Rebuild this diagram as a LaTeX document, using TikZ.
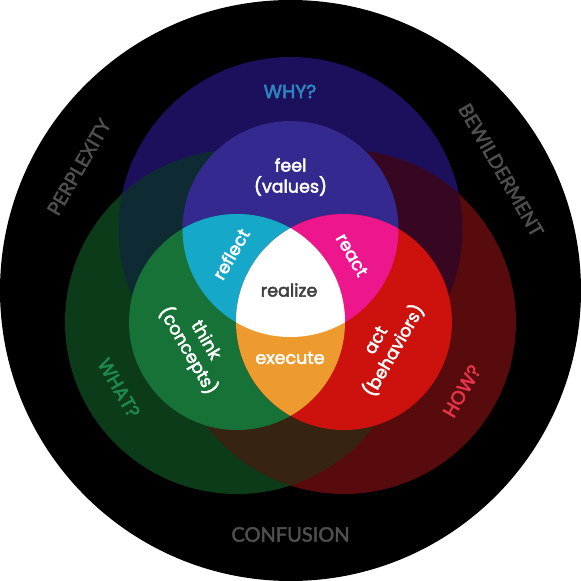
\documentclass[tikz,border=0pt]{standalone}
\usepackage{fontspec}
\setmainfont{Poppins}[FakeBold=2.6]
\newfontfamily\outerfont{Lato}[FakeBold=2.2]
\definecolor{bigB}{HTML}{1C0F5C}
\definecolor{bigG}{HTML}{0C3B1A}
\definecolor{bigR}{HTML}{570B0C}
\definecolor{bigBG}{HTML}{0E2B33}
\definecolor{bigBR}{HTML}{370621}
\definecolor{bigGR}{HTML}{362312}
\definecolor{bigBGR}{HTML}{1A1412}
\definecolor{inB}{HTML}{33298F}
\definecolor{inG}{HTML}{167236}
\definecolor{inR}{HTML}{CD110D}
\definecolor{inBG}{HTML}{16A8C9}
\definecolor{inBR}{HTML}{ED168C}
\definecolor{inGR}{HTML}{ED9B2F}
\definecolor{whyc}{HTML}{2D86C0}
\definecolor{whatc}{HTML}{1F8A4E}
\definecolor{howc}{HTML}{E8344B}
\definecolor{outergray}{HTML}{505050}
\definecolor{realgray}{HTML}{404040}
\begin{document}
\begin{tikzpicture}[x=1pt,y=-1pt,
  intext/.style={text=white,align=center,inner sep=0pt,font=\fontsize{17.5}{21}\selectfont},
  qtext/.style={inner sep=0pt,font=\fontsize{19}{22}\selectfont},
  outertext/.style={text=outergray,inner sep=0pt,font=\outerfont\fontsize{19}{22}\selectfont}]
\useasboundingbox (0,0) rectangle (581,581);
\fill[black] (290.5,290.5) circle[radius=290.5pt];
\coordinate (B) at (290.5,229);
\coordinate (G) at (237,322);
\coordinate (R) at (344,322);
% big circles
\fill[bigB] (B) circle[radius=172pt];
\fill[bigG] (G) circle[radius=172pt];
\fill[bigR] (R) circle[radius=172pt];
\begin{scope}\clip (B) circle[radius=172pt]; \fill[bigBG] (G) circle[radius=172pt];\end{scope}
\begin{scope}\clip (B) circle[radius=172pt]; \fill[bigBR] (R) circle[radius=172pt];\end{scope}
\begin{scope}\clip (G) circle[radius=172pt]; \fill[bigGR] (R) circle[radius=172pt];\end{scope}
\begin{scope}\clip (B) circle[radius=172pt]; \clip (G) circle[radius=172pt]; \fill[bigBGR] (R) circle[radius=172pt];\end{scope}
% inner circles
\fill[inB] (B) circle[radius=108pt];
\fill[inG] (G) circle[radius=108pt];
\fill[inR] (R) circle[radius=108pt];
\begin{scope}\clip (B) circle[radius=108pt]; \fill[inBG] (G) circle[radius=108pt];\end{scope}
\begin{scope}\clip (B) circle[radius=108pt]; \fill[inBR] (R) circle[radius=108pt];\end{scope}
\begin{scope}\clip (G) circle[radius=108pt]; \fill[inGR] (R) circle[radius=108pt];\end{scope}
\begin{scope}\clip (B) circle[radius=108pt]; \clip (G) circle[radius=108pt]; \fill[white] (R) circle[radius=108pt];\end{scope}
% texts
\node[intext] (feel) at (290.5,177) {feel\\(values)};
\node[intext,text=realgray] (realize) at (289,290) {realize};
\node[intext] (execute) at (290,358) {execute};
\node[intext,rotate=60] (reflect) at (231,254) {reflect};
\node[intext,rotate=-60] (react) at (352,255) {react};
\node[intext,rotate=-60] (think) at (196,346) {think\\(concepts)};
\node[intext,rotate=60] (act) at (386,346) {act\\(behaviors)};
\node[qtext,text=whyc] (why) at (290,91.5) {WHY?};
\node[qtext,text=whatc,rotate=-60] (what) at (119,388) {WHAT?};
\node[qtext,text=howc,rotate=60] (how) at (462,391) {HOW?};
\node[outertext,rotate=60] (perplexity) at (79,167) {PERPLEXITY};
\node[outertext,rotate=-60] (bewilderment) at (501,170) {BEWILDERMENT};
\node[outertext,font=\outerfont\fontsize{20}{22}\selectfont] (confusion) at (290.5,534.5) {CONFUSION};
\end{tikzpicture}
\end{document}
